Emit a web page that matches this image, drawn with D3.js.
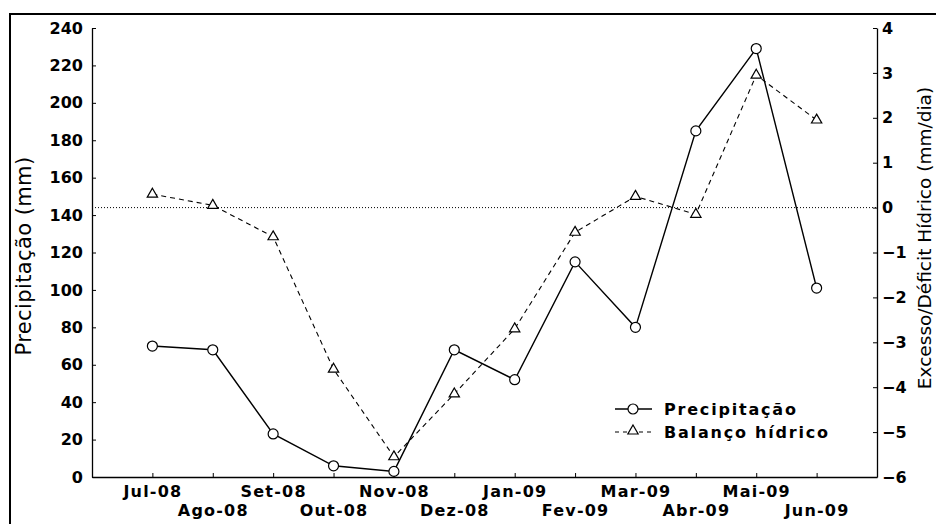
<!DOCTYPE html>
<html>
<head>
<meta charset="utf-8">
<script src="https://cdn.jsdelivr.net/npm/d3@7"></script>
<style>
  body { margin: 0; background: #fff; }
  svg { font-family: "DejaVu Sans", "Liberation Sans", Arial, sans-serif; }
</style>
</head>
<body>
<div id="chart"></div>
<script>
// months on the x axis
const months = ["Jul-08", "Ago-08", "Set-08", "Out-08", "Nov-08", "Dez-08",
                "Jan-09", "Fev-09", "Mar-09", "Abr-09", "Mai-09", "Jun-09"];
// left axis series (mm)
const precipitacao = [70, 68, 23, 6, 3, 68, 52, 115, 80, 185, 229, 101];
// right axis series (mm/dia)
const balanco = [0.3, 0.05, -0.65, -3.6, -5.55, -4.15, -2.7, -0.55, 0.25, -0.15, 2.95, 1.95];
const leftTicks = [0, 20, 40, 60, 80, 100, 120, 140, 160, 180, 200, 220, 240];
const rightTicks = [-6, -5, -4, -3, -2, -1, 0, 1, 2, 3, 4];
const legendLabels = ["Precipitação", "Balanço hídrico"];

const W = 936, H = 524;
const margin = {top: 28, right: 59, bottom: 47, left: 92};
const FONT = '"DejaVu Sans", "Liberation Sans", Arial, sans-serif';

const svg = d3.select('#chart').append('svg')
  .attr('width', W)
  .attr('height', H);

// outer frame (right and bottom edges fall outside the picture)
svg.append('rect')
  .attr('x', 10).attr('y', 14)
  .attr('width', 1000).attr('height', 1000)
  .attr('fill', 'none')
  .attr('stroke', '#000')
  .attr('stroke-width', 2);

const x = d3.scaleLinear()
  .domain([-1, months.length])
  .range([margin.left, W - margin.right]);

const yL = d3.scaleLinear()
  .domain([0, 240])
  .range([H - margin.bottom, margin.top]);

const yR = d3.scaleLinear()
  .domain([-6, 4])
  .range([H - margin.bottom, margin.top]);

// zero line of the balance
svg.append('line')
  .attr('x1', x.range()[0]).attr('x2', x.range()[1])
  .attr('y1', yR(0)).attr('y2', yR(0))
  .attr('stroke', '#000')
  .attr('stroke-width', 1)
  .attr('stroke-dasharray', '1,2');

// axes
const tickFont = g => g.selectAll('text')
  .attr('font-size', 16)
  .attr('font-weight', 'bold')
  .attr('fill', '#000')
  .attr('font-family', FONT);

const axisLeft = svg.append('g')
  .attr('transform', `translate(${margin.left},0)`)
  .call(d3.axisLeft(yL).tickValues(leftTicks).tickSizeInner(-4).tickSizeOuter(0).tickPadding(9))
  .call(tickFont);

const axisRight = svg.append('g')
  .attr('transform', `translate(${W - margin.right},0)`)
  .call(d3.axisRight(yR).tickValues(rightTicks).tickSizeInner(-4).tickSizeOuter(0).tickPadding(5)
    .tickFormat(d3.format('d')))
  .call(tickFont);

const axisBottom = svg.append('g')
  .attr('transform', `translate(0,${H - margin.bottom})`)
  .call(d3.axisBottom(x).tickValues(d3.range(months.length)).tickSizeInner(-4).tickSizeOuter(0)
    .tickFormat(i => months[i]))
  .call(tickFont);

// staggered month labels
axisBottom.selectAll('.tick text')
  .attr('y', (d, i) => i % 2 === 0 ? 9 : 28)
  .attr('dy', '0.71em')
  .attr('letter-spacing', 1.2);

[axisLeft, axisRight, axisBottom].forEach(a => {
  a.selectAll('.domain').attr('stroke', '#000').attr('stroke-width', 1.3);
  a.selectAll('.tick line').attr('stroke', '#000');
});

// axis titles
svg.append('text')
  .attr('transform', `translate(31,256) rotate(-90)`)
  .attr('text-anchor', 'middle')
  .attr('font-size', 21)
  .attr('letter-spacing', 0.4)
  .text('Precipitação (mm)');

svg.append('text')
  .attr('transform', `translate(931,238) rotate(-90)`)
  .attr('text-anchor', 'middle')
  .attr('font-size', 18.5)
  .text('Excesso/Déficit Hídrico (mm/dia)');

// balance line (dashed, triangles)
const lineR = d3.line().x((d, i) => x(i)).y(d => yR(d));
svg.append('path')
  .datum(balanco)
  .attr('d', lineR)
  .attr('fill', 'none')
  .attr('stroke', '#000')
  .attr('stroke-width', 1.1)
  .attr('stroke-dasharray', '5,4');

const tri = d3.symbol().type(d3.symbolTriangle).size(46);
svg.append('g').selectAll('path')
  .data(balanco)
  .enter().append('path')
  .attr('d', tri)
  .attr('transform', (d, i) => `translate(${x(i)},${yR(d)})`)
  .attr('fill', '#fff')
  .attr('stroke', '#000')
  .attr('stroke-width', 1.2);

// precipitation line (solid, circles)
const lineL = d3.line().x((d, i) => x(i)).y(d => yL(d));
svg.append('path')
  .datum(precipitacao)
  .attr('d', lineL)
  .attr('fill', 'none')
  .attr('stroke', '#000')
  .attr('stroke-width', 1.4);

svg.append('g').selectAll('circle')
  .data(precipitacao)
  .enter().append('circle')
  .attr('cx', (d, i) => x(i))
  .attr('cy', d => yL(d))
  .attr('r', 5)
  .attr('fill', '#fff')
  .attr('stroke', '#000')
  .attr('stroke-width', 1.2);

// legend
const legend = svg.append('g')
  .attr('transform', 'translate(615,409)')
  .selectAll('g')
  .data(legendLabels)
  .enter().append('g')
  .attr('transform', (d, i) => `translate(0,${i * 23})`);

legend.append('line')
  .attr('x1', 0).attr('x2', 37)
  .attr('stroke', '#000')
  .attr('stroke-width', (d, i) => i === 0 ? 1.4 : 1.1)
  .attr('stroke-dasharray', (d, i) => i === 0 ? null : '4,4');

legend.each(function(d, i) {
  const g = d3.select(this);
  if (i === 0) {
    g.append('circle').attr('cx', 18).attr('r', 5)
      .attr('fill', '#fff').attr('stroke', '#000').attr('stroke-width', 1.2);
  } else {
    g.append('path').attr('d', tri).attr('transform', 'translate(18,-1)')
      .attr('fill', '#fff').attr('stroke', '#000').attr('stroke-width', 1.2);
  }
});

legend.append('text')
  .attr('x', 49)
  .attr('dy', '0.35em')
  .attr('font-size', 16)
  .attr('font-weight', 'bold')
  .attr('letter-spacing', 1.8)
  .text(d => d);
</script>
</body>
</html>
